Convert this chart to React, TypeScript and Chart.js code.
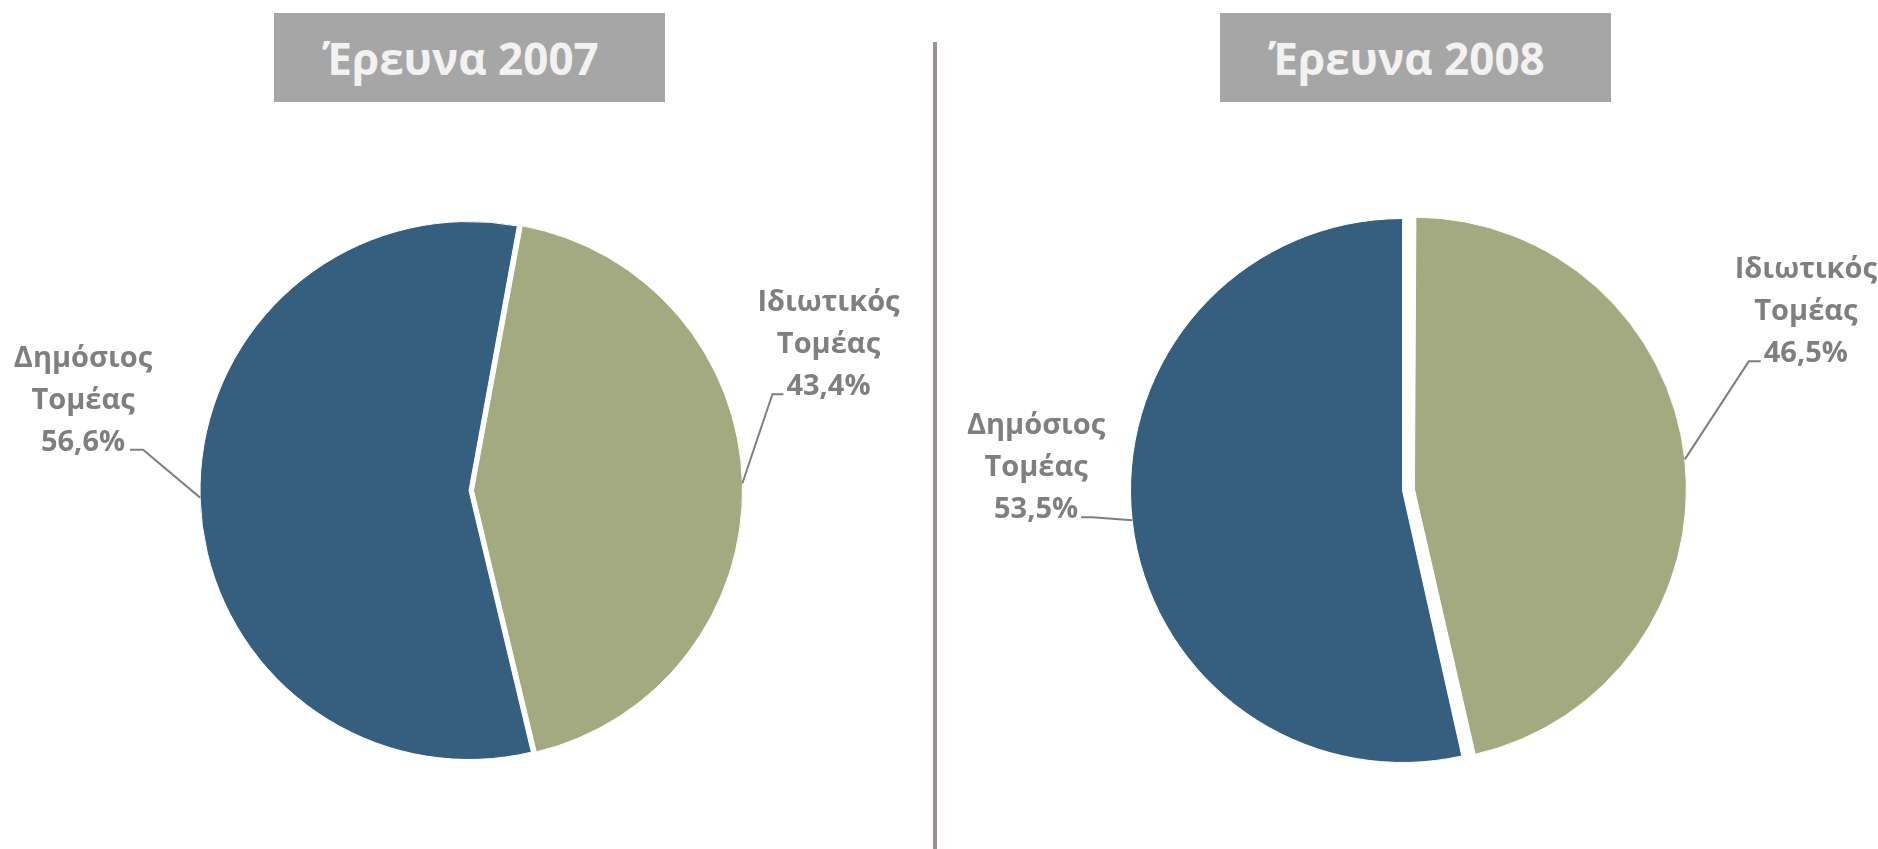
import React, { useEffect, useRef } from "react";
import { Chart, registerables } from "chart.js";

Chart.register(...registerables);

// ---- data ----
const categories = ["Δημόσιος Τομέας", "Ιδιωτικός Τομέας"];
const categoryLines = [
  ["Δημόσιος", "Τομέας"],
  ["Ιδιωτικός", "Τομέας"],
];
const values2007 = [56.6, 43.4];
const values2008 = [53.5, 46.5];
const titles = ["Έρευνα 2007", "Έρευνα 2008"];

// ---- style ----
const sliceColors = ["#365E7E", "#A4AA80"];
const labelColor = "#7F7F7F";
const FONT = "'Open Sans', 'Noto Sans', sans-serif";

const fmt = (v: number) => v.toFixed(1).replace(".", ",") + "%";

type LabelLayout = { dx: number; dy: number; h: number; gap: number };

const leaderPlugin = {
  id: "leaderLabels",
  beforeDatasetsDraw(chart: any) {
    const meta = chart.getDatasetMeta(0);
    const base = meta.controller.outerRadius;
    meta.data.forEach((arc: any) => {
      const off = (arc.options.offset || 0) / 4;
      const circ = arc.endAngle - arc.startAngle;
      const fix = 1 - Math.sin(Math.min(Math.PI, circ));
      arc.outerRadius = base - off * fix;
    });
  },
  afterDatasetsDraw(chart: any, _args: any, opts: any) {
    const ctx = chart.ctx;
    const meta = chart.getDatasetMeta(0);
    const base = meta.controller.outerRadius;
    const data = chart.data.datasets[0].data as number[];
    const layouts: LabelLayout[] = opts.layouts;
    ctx.save();
    meta.data.forEach((arc: any, i: number) => {
      const off = (arc.options.offset || 0) / 4;
      const mid = (arc.startAngle + arc.endAngle) / 2;
      const ex = arc.x + Math.cos(mid) * (base + off);
      const ey = arc.y + Math.sin(mid) * (base + off);
      const lay = layouts[i];
      const side = lay.dx < 0 ? -1 : 1;
      const bx = ex + lay.dx;
      const by = ey + lay.dy;
      const hx = bx + side * lay.h;
      ctx.strokeStyle = labelColor;
      ctx.lineWidth = 2;
      ctx.beginPath();
      ctx.moveTo(ex, ey);
      ctx.lineTo(bx, by);
      ctx.lineTo(hx, by);
      ctx.stroke();

      const lines = [...categoryLines[i], fmt(data[i])];
      ctx.font = `bold 29px ${FONT}`;
      ctx.fillStyle = labelColor;
      ctx.textAlign = "center";
      ctx.textBaseline = "alphabetic";
      const lastW = ctx.measureText(lines[lines.length - 1]).width;
      const cx = hx + side * (lay.gap + lastW / 2);
      lines.forEach((t, k) => {
        ctx.fillText(t, cx, by + 1 - (lines.length - 1 - k) * 42);
      });
    });
    ctx.restore();
  },
};

function PieChart(props: {
  values: number[];
  rotation: number;
  radius: number;
  offsets: number[];
  padding: { left: number; right: number; top: number; bottom: number };
  layouts: LabelLayout[];
}) {
  const ref = useRef<HTMLCanvasElement>(null);
  useEffect(() => {
    if (!ref.current) return;
    const chart = new Chart(ref.current, {
      type: "pie",
      data: {
        labels: categories,
        datasets: [
          {
            data: props.values,
            backgroundColor: sliceColors,
            borderColor: "#FFFFFF",
            borderWidth: 1,
            offset: props.offsets,
          },
        ],
      },
      options: {
        responsive: false,
        animation: false,
        events: [],
        rotation: props.rotation,
        radius: props.radius,
        layout: { padding: props.padding },
        plugins: {
          legend: { display: false },
          tooltip: { enabled: false },
          leaderLabels: { layouts: props.layouts },
        } as any,
      },
      plugins: [leaderPlugin as any],
    });
    return () => chart.destroy();
  }, []);
  return <canvas ref={ref} width={939} height={849} style={{ width: 939, height: 849, display: "block" }} />;
}

const titleStyle = (left: number): React.CSSProperties => ({
  position: "absolute",
  left,
  top: 13,
  width: 391,
  height: 89,
  boxSizing: "border-box",
  paddingRight: 18,
  background: "#A6A6A6",
  color: "#F2F2F2",
  fontFamily: FONT,
  fontWeight: 700,
  fontSize: 44,
  display: "flex",
  alignItems: "center",
  justifyContent: "center",
});

export default function App() {
  return (
    <div
      style={{
        position: "fixed",
        left: 0,
        top: 0,
        width: 1878,
        height: 849,
        background: "#FFFFFF",
        overflow: "hidden",
      }}
    >
      <div style={{ position: "absolute", left: 0, top: 0 }}>
        <PieChart
          values={values2007}
          rotation={166.6}
          radius={269}
          offsets={[0, 18]}
          padding={{ left: 0, right: 1, top: 132, bottom: 0 }}
          layouts={[
            { dx: -57, dy: -48, h: 13, gap: 5 },
            { dx: 30, dy: -89, h: 11, gap: 3 },
          ]}
        />
      </div>
      <div style={{ position: "absolute", left: 939, top: 0 }}>
        <PieChart
          values={values2008}
          rotation={167.4}
          radius={272}
          offsets={[0, 48]}
          padding={{ left: 0, right: 12, top: 132, bottom: 0 }}
          layouts={[
            { dx: -40, dy: -3, h: 11, gap: 3 },
            { dx: 64, dy: -98, h: 12, gap: 3 },
          ]}
        />
      </div>
      <div style={titleStyle(274)}>{titles[0]}</div>
      <div style={titleStyle(1220)}>{titles[1]}</div>
      <div
        style={{
          position: "absolute",
          left: 933,
          top: 42,
          width: 4,
          height: 807,
          background: "#9A9191",
        }}
      />
    </div>
  );
}
